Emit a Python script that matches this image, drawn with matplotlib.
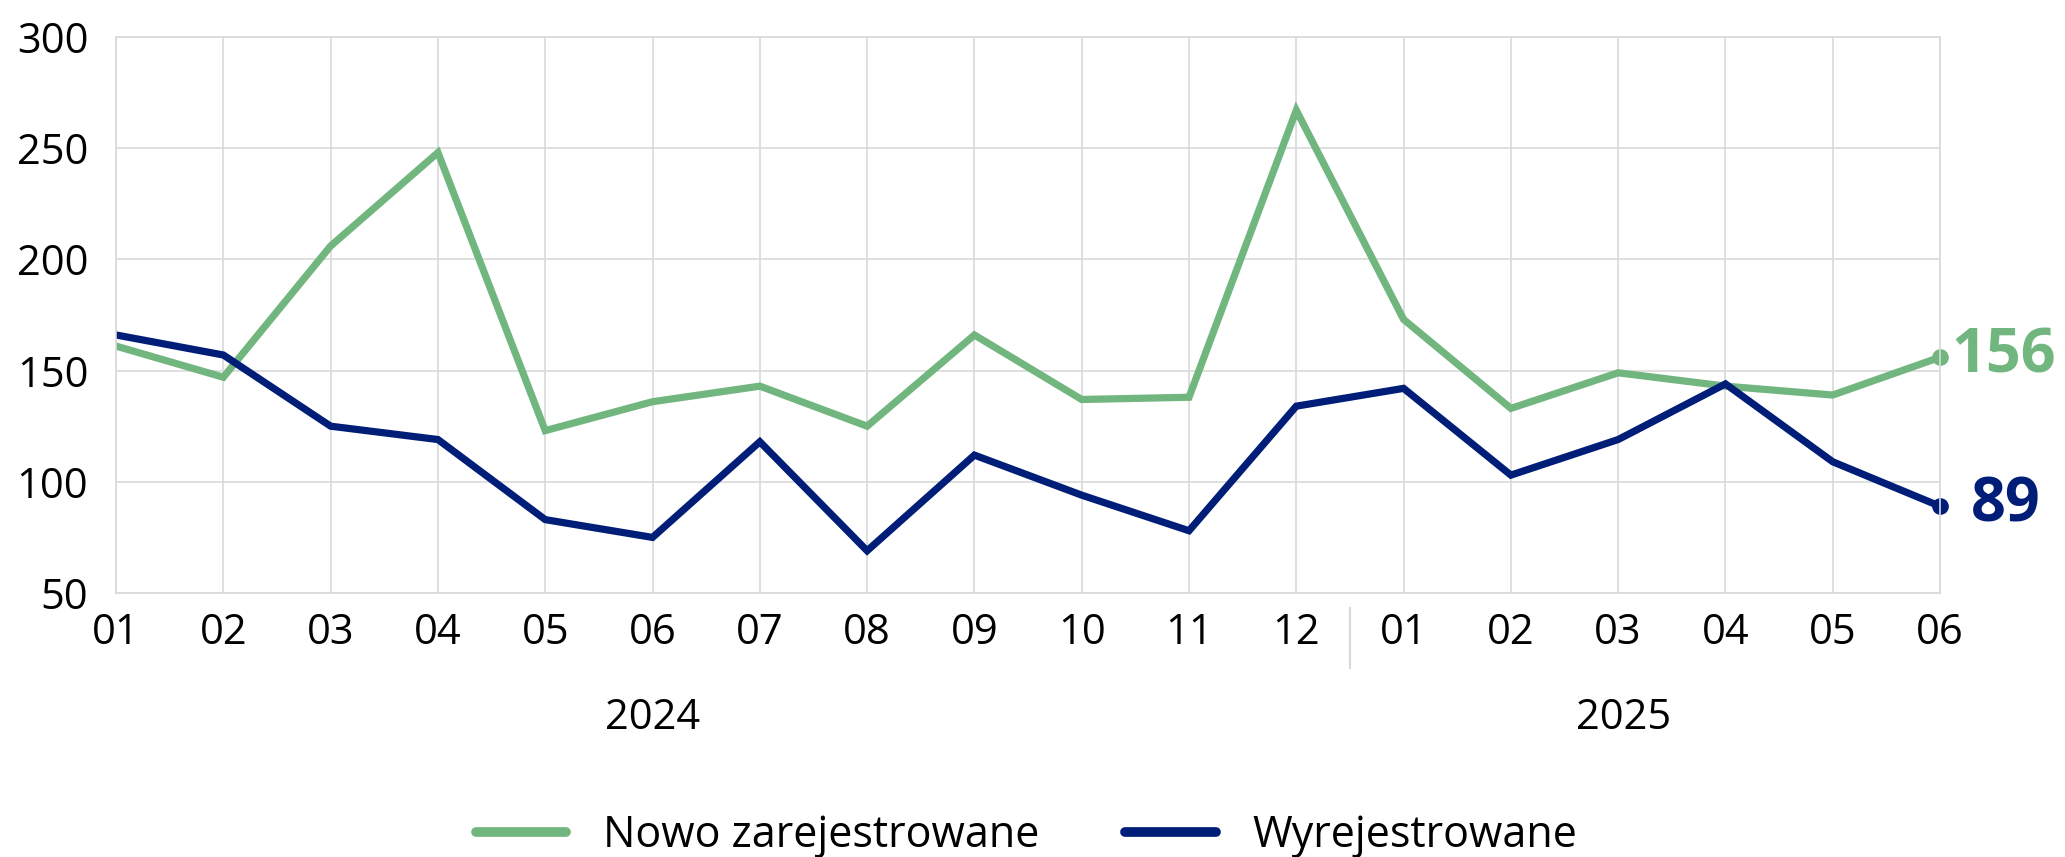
import matplotlib.pyplot as plt
import matplotlib.transforms as mtransforms
from matplotlib.lines import Line2D

plt.rcParams['font.family'] = ['Open Sans', 'DejaVu Sans']

months = ['01', '02', '03', '04', '05', '06', '07', '08', '09', '10', '11', '12',
          '01', '02', '03', '04', '05', '06']
years = ['2024', '2025']
nowo = [161, 147, 206, 248, 123, 136, 143, 125, 166, 137, 138, 267,
        173, 133, 149, 143, 139, 156]
wyrej = [166, 157, 125, 119, 83, 75, 118, 69, 112, 94, 78, 134,
         142, 103, 119, 144, 109, 89]

green = '#72b67f'
navy = '#001e78'
grid_c = '#d9d9d9'

fig = plt.figure(figsize=(20.65, 8.57), dpi=100)
ax = fig.add_axes([0.0562, 0.308, 0.8833, 0.649])

x = list(range(len(months)))
ax.plot(x, nowo, color=green, lw=5.2, solid_joinstyle='miter')
ax.plot(x, wyrej, color=navy, lw=5.2, solid_joinstyle='miter')
ax.plot(x[-1], nowo[-1], 'o', color=green, ms=11, clip_on=False)
ax.plot(x[-1], wyrej[-1], 'o', color=navy, ms=11, clip_on=False)

ax.annotate(str(nowo[-1]), (x[-1], nowo[-1]), xytext=(8, 0), textcoords='offset points',
            color=green, fontsize=44, fontweight='bold', va='center', ha='left')
ax.annotate(str(wyrej[-1]), (x[-1], wyrej[-1]), xytext=(22, 0), textcoords='offset points',
            color=navy, fontsize=44, fontweight='bold', va='center', ha='left')

ax.set_xlim(0, len(months) - 1)
ax.set_ylim(50, 300)
ax.set_yticks([50, 100, 150, 200, 250, 300])
ax.set_xticks(x)
ax.set_xticklabels(months)
ax.tick_params(axis='both', length=0, labelsize=30, colors='black')
ax.tick_params(axis='x', pad=14)
ax.tick_params(axis='y', pad=20)
ax.grid(True, color=grid_c, lw=1.2)
ax.set_axisbelow(True)
for s in ax.spines.values():
    s.set_color(grid_c)
    s.set_linewidth(1.2)

# year labels and separator
trans = mtransforms.blended_transform_factory(ax.transData, fig.transFigure)
ax.text(5.0, 0.162, years[0], transform=trans, ha='center', va='center', fontsize=30)
ax.text(14.05, 0.162, years[1], transform=trans, ha='center', va='center', fontsize=30)
ax.add_line(Line2D([11.5, 11.5], [0.29, 0.22], transform=trans, color=grid_c, lw=1.5,
                   clip_on=False))

handles = [Line2D([], [], color=green, lw=7, solid_capstyle='round'),
           Line2D([], [], color=navy, lw=7, solid_capstyle='round')]
fig.legend(handles, ['Nowo zarejestrowane', 'Wyrejestrowane'], loc='center',
           bbox_to_anchor=(0.497, 0.025), ncol=2, frameon=False, fontsize=31,
           handlelength=2.1, columnspacing=2.0, handletextpad=0.85)

fig.savefig('out.png', dpi=100)
